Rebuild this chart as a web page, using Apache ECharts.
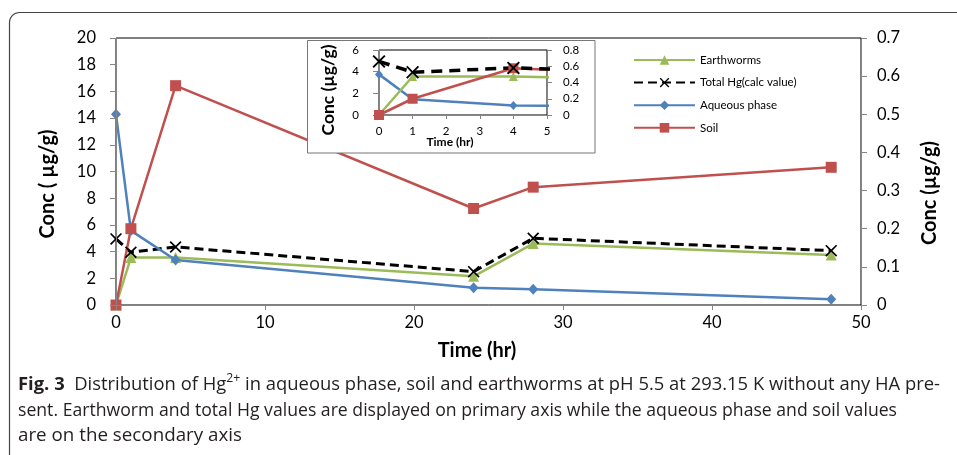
<!DOCTYPE html>
<html>
<head>
<meta charset="utf-8">
<script src="https://cdn.jsdelivr.net/npm/echarts@6/dist/echarts.min.js"></script>
<style>
  html, body { margin: 0; padding: 0; background: #fff; }
  #chart { width: 957px; height: 455px; }
</style>
</head>
<body>
<div id="chart"></div>
<script>
// Sampling times (hr)
const times = [0, 1, 4, 24, 28, 48];
// Primary axis series (µg/g)
const earthworms = [0, 3.55, 3.55, 2.15, 4.6, 3.75];
const totalHg = [4.95, 3.95, 4.35, 2.5, 5.0, 4.07];
// Secondary axis series (µg/g)
const aqueousPhase = [0.5, 0.195, 0.118, 0.045, 0.041, 0.015];
const soil = [0, 0.2, 0.575, 0.253, 0.309, 0.361];

const seriesNames = ['Earthworms', 'Total Hg(calc value)', 'Aqueous phase', 'Soil'];

// Axis ranges: [min, max, step]
const mainTimeRange = [0, 50, 10];
const mainLeftRange = [0, 20, 2];
const mainRightRange = [0, 0.7, 0.1];
const insetTimeRange = [0, 5, 1];
const insetLeftRange = [0, 6, 2];
const insetRightRange = [0, 0.8, 0.2];

const captionLine1 = ['Fig. 3', '  Distribution of Hg', '2+', ' in aqueous phase, soil and earthworms at pH 5.5 at 293.15 K without any HA pre-'];
const captionLine2 = 'sent. Earthworm and total Hg values are displayed on primary axis while the aqueous phase and soil values';
const captionLine3 = 'are on the secondary axis';

const GREEN = '#9BBB59', BLUE = '#4F81BD', RED = '#C0504D', BLACK = '#000000';
const AXIS_GRAY = '#868686';
const CROSS = 'path://M1,0L5,4L9,0L10,1L6,5L10,9L9,10L5,6L1,10L0,9L4,5L0,1Z';

const pairs = vals => times.map((t, i) => [t, vals[i]]);

function axisCommon(range, opts) {
  return Object.assign({
    type: 'value',
    min: range[0], max: range[1], interval: range[2],
    axisLine: { show: true, onZero: false, lineStyle: { color: AXIS_GRAY, width: 1 } },
    axisTick: { show: true, inside: false, length: 6, lineStyle: { color: AXIS_GRAY } },
    splitLine: { show: false },
    axisLabel: { color: '#000', fontFamily: 'Lato', fontSize: 16.5 }
  }, opts);
}

function lineSeries(name, vals, xi, yi, color, symbol, size, z, extra) {
  return Object.assign({
    type: 'line', name: name, data: pairs(vals),
    xAxisIndex: xi, yAxisIndex: yi,
    symbol: symbol, symbolSize: size,
    showAllSymbol: true, clip: true, z: z,
    itemStyle: { color: color },
    lineStyle: { color: color, width: 2.5 }
  }, extra || {});
}

const dashMain = { lineStyle: { color: BLACK, width: 3, type: [9, 5] } };
const dashInset = { lineStyle: { color: BLACK, width: 3.5, type: [11, 7] } };

// Caption measurement for horizontal condensing of each line
const measureCtx = document.createElement('canvas').getContext('2d');
function textWidth(str, font) { measureCtx.font = font; return measureCtx.measureText(str).width; }
const CAP_SIZE = 18;
const capFont = CAP_SIZE + 'px "Open Sans"';
const capBold = 'bold ' + CAP_SIZE + 'px "Open Sans"';
const supFont = '12px "Open Sans"';

const w0 = textWidth(captionLine1[0], capBold);
const w1 = textWidth(captionLine1[1], capFont);
const w2 = textWidth(captionLine1[2], supFont);
const w3 = textWidth(captionLine1[3], capFont);
const scale1 = 922 / (w0 + w1 + w2 + w3);
const scale2 = 879 / textWidth(captionLine2, capFont);
const scale3 = 224 / textWidth(captionLine3, capFont);

function capText(str, x, y, font) {
  return { type: 'text', x: x, y: y, style: { text: str, font: font, fill: '#231f20', align: 'left', verticalAlign: 'middle' } };
}

function titleText(str, x, y, font, rot, z) {
  return { type: 'text', x: x, y: y, rotation: rot, z: z,
    style: { text: str, font: font, fill: '#000', align: 'center', verticalAlign: 'middle' } };
}

const chart = echarts.init(document.getElementById('chart'), null, { renderer: 'canvas' });

const option = {
  animation: false,
  backgroundColor: '#fff',
  textStyle: { fontFamily: 'Lato' },
  grid: [
    { left: 116, right: 96, top: 38, bottom: 150, show: true, borderColor: '#000', borderWidth: 1, backgroundColor: 'transparent', z: 1 },
    { left: 379, right: 410, top: 50, bottom: 340, show: true, borderColor: '#000', borderWidth: 1, backgroundColor: 'transparent', z: 6 }
  ],
  xAxis: [
    axisCommon(mainTimeRange, { gridIndex: 0, z: 3, axisTick: { show: true, length: 5, lineStyle: { color: AXIS_GRAY } },
      axisLabel: { color: '#000', fontFamily: 'Lato', fontSize: 16.5, margin: 9 } }),
    axisCommon(insetTimeRange, { gridIndex: 1, z: 7, axisTick: { show: true, length: 4, lineStyle: { color: AXIS_GRAY } },
      axisLabel: { color: '#000', fontFamily: 'Lato', fontSize: 11.5, margin: 10 } })
  ],
  yAxis: [
    axisCommon(mainLeftRange, { gridIndex: 0, position: 'left', z: 3,
      axisLabel: { color: '#000', fontFamily: 'Lato', fontSize: 16.5, margin: 20 } }),
    axisCommon(mainRightRange, { gridIndex: 0, position: 'right', z: 3,
      axisLabel: { color: '#000', fontFamily: 'Lato', fontSize: 16.5, margin: 16 } }),
    axisCommon(insetLeftRange, { gridIndex: 1, position: 'left', z: 7,
      axisTick: { show: true, length: 6, lineStyle: { color: AXIS_GRAY } },
      axisLabel: { color: '#000', fontFamily: 'Lato', fontSize: 11.5, margin: 20 } }),
    axisCommon(insetRightRange, { gridIndex: 1, position: 'right', z: 7,
      axisTick: { show: true, length: 5, lineStyle: { color: AXIS_GRAY } },
      axisLabel: { color: '#000', fontFamily: 'Lato', fontSize: 11.5, margin: 16 } })
  ],
  legend: {
    data: seriesNames,
    orient: 'vertical',
    left: 628, top: 49,
    itemWidth: 61, itemHeight: 12, itemGap: 10.6,
    textStyle: { fontFamily: 'Lato', fontSize: 11.5, color: '#000' },
    z: 4
  },
  series: [
    // main plot
    lineSeries(seriesNames[0], earthworms, 0, 0, GREEN, 'triangle', 11, 2),
    lineSeries(seriesNames[1], totalHg, 0, 0, BLACK, CROSS, 12, 2, dashMain),
    lineSeries(seriesNames[2], aqueousPhase, 0, 1, BLUE, 'diamond', [10, 11], 2),
    lineSeries(seriesNames[3], soil, 0, 1, RED, 'rect', 11, 2),
    // inset: first five hours
    lineSeries(seriesNames[2], aqueousPhase, 1, 3, BLUE, 'diamond', [8, 9], 8),
    lineSeries(seriesNames[0], earthworms, 1, 2, GREEN, 'triangle', 9, 8),
    lineSeries(seriesNames[3], soil, 1, 3, RED, 'rect', 10, 8),
    lineSeries(seriesNames[1], totalHg, 1, 2, BLACK, CROSS, 13, 8, dashInset)
  ],
  graphic: [
    { type: 'rect', z: 0, silent: true,
      shape: { x: 9.5, y: 12.5, width: 1000, height: 500, r: 10 },
      style: { fill: 'none', stroke: '#444', lineWidth: 1.2 } },
    { type: 'rect', z: 5, silent: true,
      shape: { x: 307.5, y: 40.5, width: 287.5, height: 112.5 },
      style: { fill: '#fff', stroke: '#777', lineWidth: 1 } },
    titleText('Conc ( µg/g)', 48, 184, 'bold 20px Lato', Math.PI / 2, 3),
    titleText('Conc (µg/g)', 930, 193, 'bold 20px Lato', Math.PI / 2, 3),
    titleText('Time (hr)', 477, 351, 'bold 20px Lato', 0, 3),
    titleText('Conc (µg/g)', 328, 90, 'bold 17.5px Lato', Math.PI / 2, 10),
    titleText('Time (hr)', 450, 142, 'bold 12px Lato', 0, 10),
    { type: 'group', x: 18, y: 385, scaleX: scale1, z: 3, children: [
      capText(captionLine1[0], 0, 0, capBold),
      capText(captionLine1[1], w0, 0, capFont),
      capText(captionLine1[2], w0 + w1, -6, supFont),
      capText(captionLine1[3], w0 + w1 + w2, 0, capFont)
    ] },
    { type: 'group', x: 18, y: 410.5, scaleX: scale2, z: 3, children: [
      capText(captionLine2, 0, 0, capFont)
    ] },
    { type: 'group', x: 18, y: 436, scaleX: scale3, z: 3, children: [
      capText(captionLine3, 0, 0, capFont)
    ] }
  ]
};

chart.setOption(option);
</script>
</body>
</html>
